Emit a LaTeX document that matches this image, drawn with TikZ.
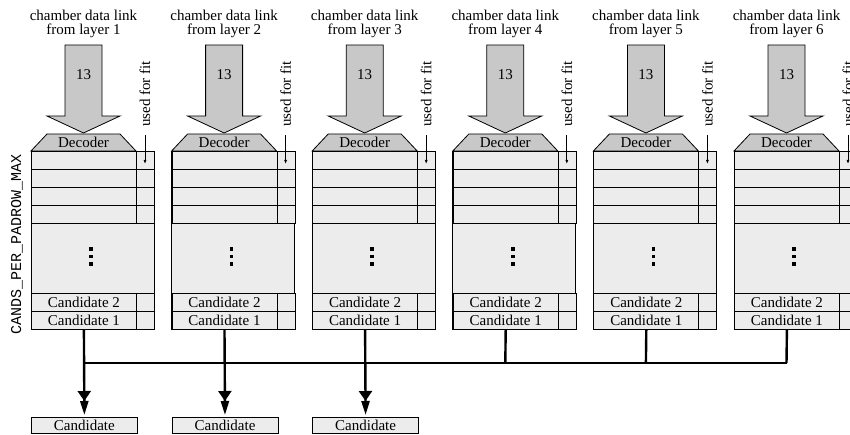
\documentclass[tikz,border=0pt]{standalone}
\usepackage{fontspec}
\setmainfont{Liberation Serif}
\setmonofont{Liberation Mono}
\usetikzlibrary{arrows.meta,calc}
\definecolor{linkgray}{HTML}{C8C8C8}
\definecolor{cellgray}{HTML}{ECECEC}
\begin{document}
\begin{tikzpicture}[x=1pt,y=-1pt,
  txt/.style={font=\fontsize{15}{14}\selectfont, inner sep=0pt},
  hdr/.style={txt, align=center},
  linkarrow/.style={draw=black, line width=0.8pt, fill=linkgray},
  decoder/.style={draw=black, line width=0.8pt, fill=linkgray},
  cell/.style={txt, draw=black, line width=0.8pt, fill=cellgray, anchor=north west, minimum height=18pt},
  body/.style={draw=black, line width=0.8pt, fill=cellgray},
  fitarrow/.style={line width=0.8pt, -{Latex[length=4pt,width=3pt]}},
  busline/.style={line width=2.4pt},
  outarrow/.style={line width=2.4pt, shorten >=2pt,
    -{Triangle[length=10pt,width=13pt]Triangle[length=14pt,width=8pt]}},
  dotmark/.style={fill=black, minimum size=3.5pt, inner sep=0pt, rectangle}
]
\useasboundingbox (0,0) rectangle (850,435);
\fill[white] (0,0) rectangle (850,435);

% vertical label along the candidate buffers
\node[font=\ttfamily\fontsize{15}{15}\selectfont, rotate=90, inner sep=0pt] (cpm) at (17,244) {CANDS\_PER\_PADROW\_MAX};

\begin{scope}
\clip (0,0) rectangle (850,435);
\foreach \i in {1,...,6} {
  \pgfmathsetmacro\L{31+140.6*(\i-1)}
  \begin{scope}[shift={(\L,0)}]
    % input link
    \node[hdr] (hdr\i) at (52.5,24) {chamber data link\\from layer \i};
    \draw[linkarrow] (34,45) -- (71,45) -- (71,116) -- (89,116) -- (52.5,133)
      -- (16,116) -- (34,116) -- cycle;
    \node[txt] (w\i) at (52.5,75) {13};
    % decoder
    \draw[decoder] (0,151) -- (16,134) -- (89,134) -- (105,151) -- cycle;
    \node[txt] (dec\i) at (52.5,142.5) {Decoder};
    % candidate buffer
    \draw[body] (0,151) rectangle (123,329);
    \foreach \r/\y in {a/151,b/169,c/187,d/205} {
      \node[cell, minimum width=105pt] (r\r-\i) at (0,\y) {};
      \node[cell, minimum width=18pt] (f\r-\i) at (105,\y) {};
    }
    \node[dotmark] (dA\i) at (60,249) {};
    \node[dotmark] (dB\i) at (60,256.5) {};
    \node[dotmark] (dC\i) at (60,264) {};
    \node[cell, minimum width=105pt] (c2-\i) at (0,293) {Candidate 2};
    \node[cell, minimum width=18pt] (g2-\i) at (105,293) {};
    \node[cell, minimum width=105pt] (c1-\i) at (0,311) {Candidate 1};
    \node[cell, minimum width=18pt] (g1-\i) at (105,311) {};
    % fit flag
    \node[txt, rotate=90] (fit\i) at (114,94) {used for fit};
    \coordinate (fs\i) at (114,135);
    \coordinate (fe\i) at (114,164);
    \draw[fitarrow] (fs\i) -- (fe\i);
    \coordinate (j\i) at (52.5,363);
  \end{scope}
}
% collecting bus
\draw[busline] (j1) -- (j6);
\foreach \i in {4,5,6} {
  \draw[busline] (c1-\i.south) -- (j\i);
}
% outputs
\foreach \i in {1,2,3} {
  \pgfmathsetmacro\L{31+140.6*(\i-1)}
  \node[cell, minimum width=106pt, minimum height=16pt] (out\i) at (\L,417) {Candidate};
  \draw[outarrow] (c1-\i.south) -- (out\i.north);
}
\end{scope}
\end{tikzpicture}
\end{document}
